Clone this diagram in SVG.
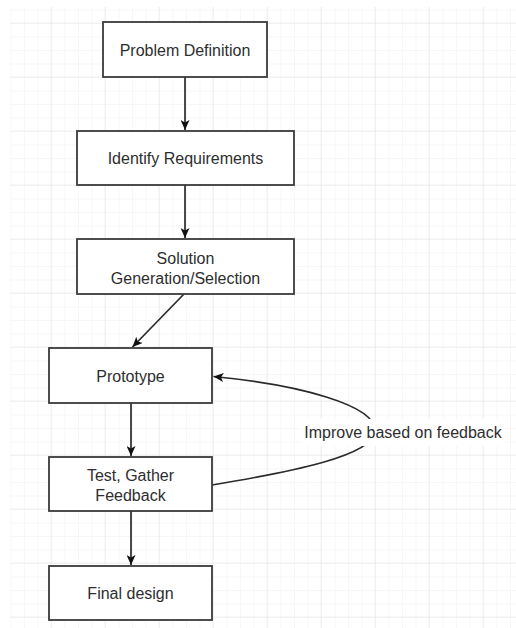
<svg xmlns="http://www.w3.org/2000/svg" width="516" height="628" viewBox="0 0 516 628">
<style>
.box{fill:#ffffff;stroke:#3a3a3a;stroke-width:1.8}
.lbl{font-family:"Liberation Sans",Arial,sans-serif;font-size:16px;fill:#2e2e2e;text-anchor:middle}
.edge{fill:none;stroke:#2a2a2a;stroke-width:1.7}
</style>
<defs>
<pattern id="minor" patternUnits="userSpaceOnUse" x="10.5" y="9.5" width="13.5" height="13.5">
<path d="M0,0 H13.5 M0,0 V13.5" stroke="#efefef" stroke-width="1" fill="none"/>
</pattern>
<pattern id="major" patternUnits="userSpaceOnUse" x="-3.5" y="-31.5" width="54" height="54">
<path d="M0,0 H54 M0,0 V54" stroke="#e3e3e3" stroke-width="1" fill="none"/>
</pattern>
<marker id="arr" viewBox="0 0 10 9" refX="10" refY="4.5" markerWidth="11" markerHeight="9" markerUnits="userSpaceOnUse" orient="auto">
<path d="M0,0 L10,4.5 L0,9 L2.5,4.5 z" fill="#111111"/>
</marker>
</defs>
<rect width="516" height="628" fill="#ffffff"/>
<rect x="10" y="7" width="506" height="621" fill="url(#minor)"/>
<rect x="10" y="7" width="506" height="621" fill="url(#major)"/>
<g id="connectors">
<line class="edge" x1="185" y1="77" x2="185" y2="130" marker-end="url(#arr)"/>
<line class="edge" x1="185" y1="185" x2="185" y2="238" marker-end="url(#arr)"/>
<line class="edge" x1="184" y1="294" x2="132.5" y2="347" marker-end="url(#arr)"/>
<line class="edge" x1="131" y1="403" x2="131" y2="456" marker-end="url(#arr)"/>
<line class="edge" x1="131" y1="511" x2="131" y2="565" marker-end="url(#arr)"/>
<path class="edge" d="M212,485 C290,472 374,456 375,431 C376,405 300,385 213.5,376.5" marker-end="url(#arr)"/>
<g id="edge-label">
<rect x="301" y="419" width="204" height="27" fill="#ffffff"/>
<text class="lbl" x="403" y="438">Improve based on feedback</text>
</g>
</g>
<g id="n1"><rect class="box" x="103" y="22" width="164" height="55"/><text class="lbl" x="185" y="56">Problem Definition</text></g>
<g id="n2"><rect class="box" x="77" y="131" width="217" height="54"/><text class="lbl" x="185.5" y="164">Identify Requirements</text></g>
<g id="n3"><rect class="box" x="77" y="239" width="217" height="55"/><text class="lbl" x="185.5" y="264">Solution</text><text class="lbl" x="185.5" y="284">Generation/Selection</text></g>
<g id="n4"><rect class="box" x="49" y="348" width="163" height="55"/><text class="lbl" x="130.5" y="382">Prototype</text></g>
<g id="n5"><rect class="box" x="49" y="457" width="163" height="54"/><text class="lbl" x="130.5" y="481">Test, Gather</text><text class="lbl" x="130.5" y="501">Feedback</text></g>
<g id="n6"><rect class="box" x="49" y="566" width="163" height="54"/><text class="lbl" x="130.5" y="599">Final design</text></g>
</svg>
